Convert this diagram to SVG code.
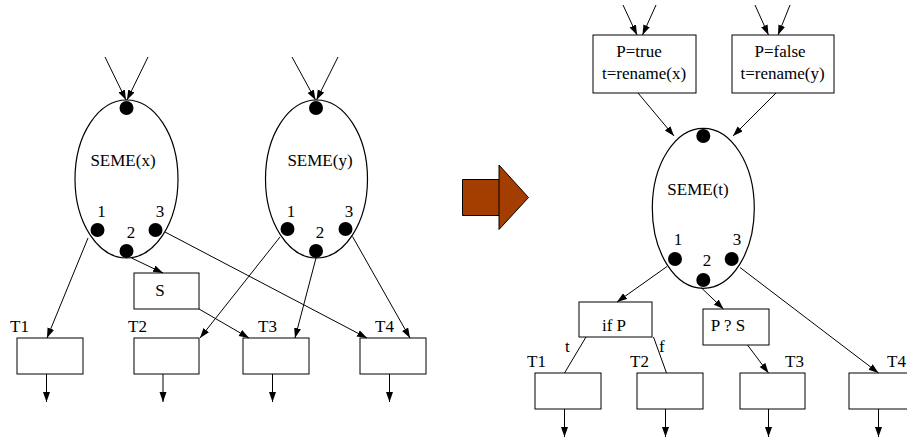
<svg xmlns="http://www.w3.org/2000/svg" width="907" height="441" viewBox="0 0 907 441">
<defs>
<marker id="ah" markerUnits="userSpaceOnUse" markerWidth="11" markerHeight="8" refX="10" refY="3.5" orient="auto">
<path d="M0,0 L10,3.5 L0,7 z" fill="#000"/>
</marker>
<style>
text{font-family:"Liberation Serif","Times New Roman",serif;font-size:17px;fill:#000}
.c{text-anchor:middle}
.box{fill:#fff;stroke:#000;stroke-width:1}
.ell{fill:#fff;stroke:#000;stroke-width:1.2}
.dot{fill:#000}
.ln{stroke:#000;stroke-width:1;fill:none}
.ar{stroke:#000;stroke-width:1;fill:none;marker-end:url(#ah)}
</style>
</defs>
<rect width="907" height="441" fill="#fff"/>

<!-- Left side nodes -->
<g id="seme-x">
<ellipse class="ell" cx="126.5" cy="179" rx="51.5" ry="79"/>
<circle class="dot" cx="126.5" cy="108" r="7"/>
<text class="c" x="123" y="166">SEME(x)</text>
<circle class="dot" cx="97.5" cy="230" r="7"/>
<circle class="dot" cx="126.5" cy="251" r="7"/>
<circle class="dot" cx="155.5" cy="230" r="7"/>
<text class="c" x="101.5" y="217">1</text>
<text class="c" x="131" y="238">2</text>
<text class="c" x="160" y="217">3</text>
</g>
<g id="seme-y">
<ellipse class="ell" cx="316.5" cy="179" rx="51" ry="79"/>
<circle class="dot" cx="316" cy="108" r="7"/>
<text class="c" x="320" y="166">SEME(y)</text>
<circle class="dot" cx="287.5" cy="229" r="7"/>
<circle class="dot" cx="316" cy="251" r="7"/>
<circle class="dot" cx="345.5" cy="229" r="7"/>
<text class="c" x="291" y="217">1</text>
<text class="c" x="320" y="238">2</text>
<text class="c" x="349" y="217">3</text>
</g>
<g id="S">
<rect class="box" x="134" y="273" width="65" height="36"/>
<text class="c" x="160" y="296">S</text>
</g>
<g id="L-T1">
<rect class="box" x="17" y="338" width="66" height="36"/>
<text x="10" y="332">T1</text>
</g>
<g id="L-T2">
<rect class="box" x="134" y="338" width="65" height="36"/>
<text x="128" y="332">T2</text>
</g>
<g id="L-T3">
<rect class="box" x="243" y="338" width="66" height="36"/>
<text x="258" y="332">T3</text>
</g>
<g id="L-T4">
<rect class="box" x="360" y="338" width="66" height="36"/>
<text x="375" y="332">T4</text>
</g>

<!-- Transformation arrow -->
<g id="big-arrow">
<path d="M462.5,179.5 H499 V165 L528.5,197.5 L499,229.5 V215.5 H462.5 Z" fill="#a33d00" stroke="#000" stroke-width="1"/>
<line x1="499" y1="179.5" x2="499" y2="215.5" stroke="#000" stroke-width="1"/>
</g>

<!-- Right side nodes -->
<g id="p-true">
<rect class="box" x="593" y="35" width="103" height="58"/>
<text class="c" x="639" y="57">P=true</text>
<text class="c" x="644" y="79">t=rename(x)</text>
</g>
<g id="p-false">
<rect class="box" x="732" y="35" width="102" height="58"/>
<text class="c" x="780" y="57">P=false</text>
<text class="c" x="782.5" y="79">t=rename(y)</text>
</g>
<g id="seme-t">
<ellipse class="ell" cx="703.3" cy="208.3" rx="51" ry="80"/>
<circle class="dot" cx="703.3" cy="136" r="7"/>
<text class="c" x="698" y="195">SEME(t)</text>
<circle class="dot" cx="675" cy="259" r="7"/>
<circle class="dot" cx="703.3" cy="280" r="7"/>
<circle class="dot" cx="731.7" cy="259" r="7"/>
<text class="c" x="678" y="245">1</text>
<text class="c" x="707" y="266">2</text>
<text class="c" x="737" y="245">3</text>
</g>
<g id="ifP">
<rect class="box" x="579" y="302" width="73" height="35"/>
<text class="c" x="614" y="331">if P</text>
</g>
<g id="PS">
<rect class="box" x="703" y="309" width="66" height="36"/>
<text class="c" x="728" y="331">P ? S</text>
</g>
<g id="R-T1">
<rect class="box" x="535" y="373" width="66" height="36"/>
<text x="527" y="367">T1</text>
</g>
<g id="R-T2">
<rect class="box" x="637" y="373" width="66" height="36"/>
<text x="630" y="367">T2</text>
</g>
<g id="R-T3">
<rect class="box" x="740" y="373" width="65" height="36"/>
<text x="785" y="367">T3</text>
</g>
<g id="R-T4">
<rect class="box" x="849" y="373" width="66" height="36"/>
<text x="906" y="367" text-anchor="end">T4</text>
</g>

<!-- Connectors -->
<g id="connectors">
<!-- left -->
<line class="ar" x1="105" y1="57" x2="126" y2="100"/>
<line class="ar" x1="148" y1="57" x2="127" y2="100"/>
<line class="ar" x1="292" y1="57" x2="315.5" y2="100"/>
<line class="ar" x1="338" y1="57" x2="316.5" y2="100"/>
<line class="ar" x1="88" y1="238" x2="47" y2="338"/>
<line class="ar" x1="131.5" y1="258" x2="163" y2="273"/>
<line class="ar" x1="165" y1="232" x2="367" y2="338"/>
<line class="ar" x1="199" y1="309" x2="249" y2="338"/>
<line class="ar" x1="280" y1="237" x2="200" y2="338"/>
<line class="ar" x1="316" y1="258" x2="295" y2="338"/>
<line class="ar" x1="352.5" y1="236.5" x2="410" y2="338"/>
<line class="ar" x1="46.5" y1="374" x2="46.5" y2="402"/>
<line class="ar" x1="163" y1="374" x2="163" y2="402"/>
<line class="ar" x1="272.5" y1="374" x2="272.5" y2="402"/>
<line class="ar" x1="389.5" y1="374" x2="389.5" y2="402"/>
<!-- right -->
<line class="ar" x1="623" y1="5" x2="637" y2="35"/>
<line class="ar" x1="656" y1="5" x2="642.5" y2="35"/>
<line class="ar" x1="755" y1="5" x2="768.5" y2="35"/>
<line class="ar" x1="790" y1="5" x2="778" y2="35"/>
<line class="ar" x1="638" y1="93" x2="674" y2="136"/>
<line class="ar" x1="776" y1="93" x2="733" y2="136"/>
<line class="ar" x1="667" y1="266.5" x2="617" y2="302"/>
<line class="ar" x1="701.5" y1="288" x2="723.5" y2="309"/>
<line class="ar" x1="740" y1="267.5" x2="878.5" y2="373"/>
<line class="ar" x1="747.5" y1="345" x2="768.5" y2="373"/>
<line class="ln" x1="586" y1="337" x2="564.5" y2="373"/>
<line class="ln" x1="653.5" y1="337" x2="666.5" y2="373"/>
<text x="565" y="352">t</text>
<text x="659" y="352">f</text>
<line class="ar" x1="564.5" y1="409" x2="564.5" y2="437"/>
<line class="ar" x1="665.5" y1="409" x2="665.5" y2="437"/>
<line class="ar" x1="768.5" y1="409" x2="768.5" y2="437"/>
<line class="ar" x1="878.5" y1="409" x2="878.5" y2="437"/>
</g>
</svg>
